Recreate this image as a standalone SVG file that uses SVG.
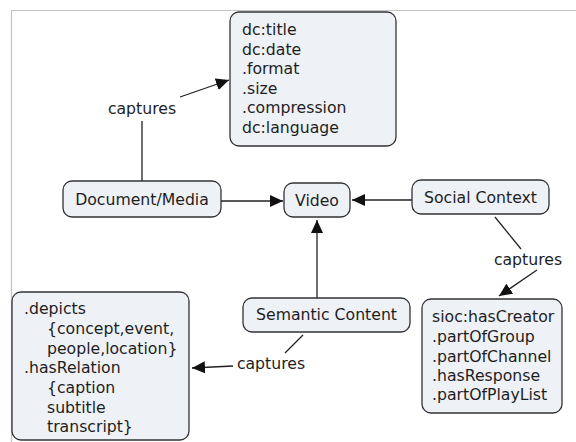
<svg xmlns="http://www.w3.org/2000/svg" width="576" height="442" viewBox="0 0 576 442">
<style>
text{font-family:"DejaVu Sans","Verdana",sans-serif;font-size:15.7px;fill:#1e1e1e}
.box{fill:#eef1f6;stroke:#333;stroke-width:1.3}
.c{stroke:#222;stroke-width:1.3;fill:none}
.m{text-anchor:middle}
</style>
<defs>
<marker id="ah" markerUnits="userSpaceOnUse" markerWidth="14" markerHeight="12" refX="13" refY="6" orient="auto">
<path d="M0,0 L13,6 L0,12 z" fill="#111"/>
</marker>
</defs>
<rect width="576" height="442" fill="#fff"/>
<path d="M11.5,442 V10.5 H576" fill="none" stroke="#c4c4c4" stroke-width="1.2"/>
<g id="connectors">
<path class="c" d="M180,97 L229,80" marker-end="url(#ah)"/>
<path class="c" d="M142,121 L142,181"/>
<path class="c" d="M221,201 L283,201" marker-end="url(#ah)"/>
<path class="c" d="M412,200 L352,200" marker-end="url(#ah)"/>
<path class="c" d="M317,298 L317,220" marker-end="url(#ah)"/>
<path class="c" d="M495,217 L521,249"/>
<path class="c" d="M537,270 L499,296" marker-end="url(#ah)"/>
<path class="c" d="M303,335 L285,353"/>
<path class="c" d="M233,366 L192,368" marker-end="url(#ah)"/>
</g>
<g id="label-captures-1"><text class="m" x="142" y="113.5">captures</text></g>
<g id="label-captures-2"><text class="m" x="528" y="264.5">captures</text></g>
<g id="label-captures-3"><text class="m" x="271" y="368.5">captures</text></g>
<g id="node-props">
<rect class="box" x="230" y="12" width="166" height="134" rx="9"/>
<text x="242" y="34.5">dc:title</text>
<text x="242" y="54.5">dc:date</text>
<text x="242" y="73.5">.format</text>
<text x="242" y="93.5">.size</text>
<text x="242" y="112.5">.compression</text>
<text x="242" y="132.5">dc:language</text>
</g>
<g id="node-docmedia">
<rect class="box" x="63" y="181" width="158" height="36" rx="9"/>
<text class="m" x="142" y="204.5">Document/Media</text>
</g>
<g id="node-video">
<rect class="box" x="284" y="183" width="66" height="34" rx="9"/>
<text class="m" x="317" y="205.5">Video</text>
</g>
<g id="node-social">
<rect class="box" x="412" y="180" width="137" height="34" rx="9"/>
<text class="m" x="480.5" y="202.5">Social Context</text>
</g>
<g id="node-semantic">
<rect class="box" x="243" y="298" width="167" height="34" rx="9"/>
<text class="m" x="326.5" y="319.5">Semantic Content</text>
</g>
<g id="node-sioc">
<rect class="box" x="422" y="299" width="140" height="114" rx="9"/>
<text x="432" y="321.5">sioc:hasCreator</text>
<text x="432" y="341.5">.partOfGroup</text>
<text x="432" y="361.5">.partOfChannel</text>
<text x="432" y="380.5">.hasResponse</text>
<text x="432" y="399.5">.partOfPlayList</text>
</g>
<g id="node-depicts">
<rect class="box" x="12" y="292" width="177" height="148" rx="9"/>
<text x="24" y="313.5">.depicts</text>
<text x="47" y="333.5">{concept,event,</text>
<text x="47" y="353.5">people,location}</text>
<text x="24" y="372.5">.hasRelation</text>
<text x="47" y="392.5">{caption</text>
<text x="47" y="412.5">subtitle</text>
<text x="47" y="431.5">transcript}</text>
</g>
</svg>
